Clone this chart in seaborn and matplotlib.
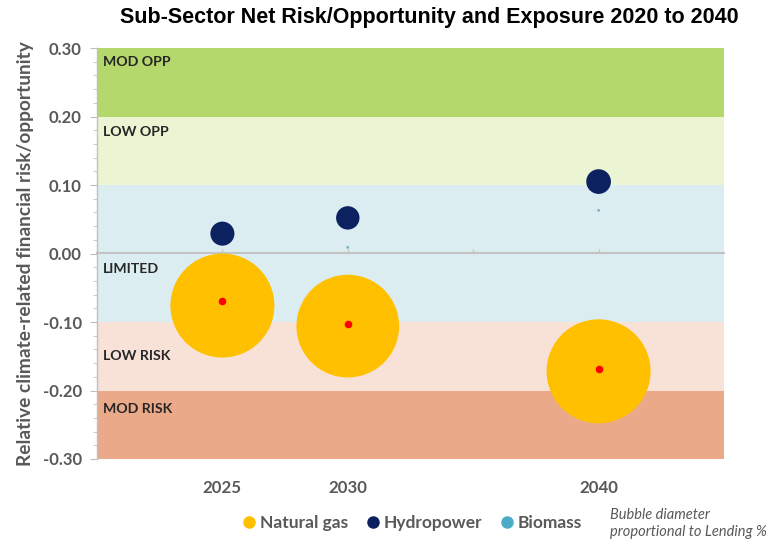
import matplotlib
matplotlib.use("Agg")
import matplotlib.pyplot as plt
from matplotlib.lines import Line2D
import numpy as np
import pandas as pd
import seaborn as sns

# ---- data ----
years = [2025, 2030, 2040]
gas_y = [-0.076, -0.106, -0.172]
gas_lending = [80, 79, 80]
hydro_y = [0.029, 0.052, 0.105]
hydro_lending = [18.5, 18, 19]
bio_years = [2030, 2040]
bio_y = [0.009, 0.063]
bio_lending = [2.2, 2.2]
red_y = [-0.070, -0.103, -0.168]

band_names = ["MOD OPP", "LOW OPP", "LIMITED", "LOW RISK", "MOD RISK"]
band_top = [0.30, 0.20, 0.10, -0.10, -0.20]
band_bottom = [0.20, 0.10, -0.10, -0.20, -0.30]
band_label_y = [0.280, 0.178, -0.023, -0.150, -0.227]
band_colors = ["#b5d86c", "#ebf5d3", "#dcedf1", "#f8e2d8", "#eaaa89"]

series_names = ["Natural gas", "Hydropower", "Biomass"]
series_colors = {"Natural gas": "#ffc000", "Hydropower": "#0b2160", "Biomass": "#4bacc6"}

yticks = [0.30, 0.20, 0.10, 0.00, -0.10, -0.20, -0.30]
xtick_years = [2025, 2030, 2040]

# ---- frame ----
df = pd.DataFrame({
    "Year": years * 2 + bio_years,
    "Value": gas_y + hydro_y + bio_y,
    "Lending": gas_lending + hydro_lending + bio_lending,
    "Sub-sector": ["Natural gas"] * 3 + ["Hydropower"] * 3 + ["Biomass"] * 2,
})
red_df = pd.DataFrame({"Year": years, "Value": red_y})

sns.set_style("white")
plt.rcParams["font.family"] = ["Lato", "DejaVu Sans"]

DPI = 100
fig = plt.figure(figsize=(7.66, 5.47), dpi=DPI)
ax = fig.add_axes([97 / 766, 1 - 459 / 547, (724 - 97) / 766, (459 - 48) / 547])

ax.set_xlim(2020, 2045)
ax.set_ylim(-0.30, 0.30)

for top, bot, col in zip(band_top, band_bottom, band_colors):
    ax.axhspan(bot, top, color=col, lw=0, zorder=0)
for name, ly in zip(band_names, band_label_y):
    ax.text(2020.25, ly, name, fontsize=10.2, fontweight="bold", color="#262626",
            va="center", ha="left", zorder=1)

# bubble diameter proportional to lending: px per %
px_per_pct = 1.3
pt_per_px = 72 / DPI
size_lookup = {v: (v * px_per_pct * pt_per_px) ** 2 for v in df["Lending"].unique()}

sns.scatterplot(data=df, x="Year", y="Value", hue="Sub-sector", size="Lending",
                sizes=size_lookup, palette=[series_colors["Natural gas"], series_colors["Hydropower"], "#7fb0c4"],
                hue_order=series_names, linewidth=0, legend=False, ax=ax, zorder=3, alpha=1)
sns.scatterplot(data=red_df, x="Year", y="Value", color="#ff0000", s=30, linewidth=0,
                legend=False, ax=ax, zorder=4)

# axes styling
for s in ["top", "right", "bottom"]:
    ax.spines[s].set_visible(False)
ax.spines["left"].set_color("#bfbfbf")
ax.spines["left"].set_linewidth(1)
ax.set_yticks(yticks)
ax.set_yticklabels([f"{t:.2f}" for t in yticks])
ax.set_yticks(np.arange(-0.30, 0.301, 0.02), minor=True)
ax.tick_params(axis="y", which="major", length=5, color="#bfbfbf", labelsize=12,
               labelcolor="#595959", pad=6, left=True)
ax.tick_params(axis="y", which="minor", length=3, color="#bfbfbf", left=True)
for lab in ax.get_yticklabels():
    lab.set_fontweight("bold")

ax.set_xticks(xtick_years)
ax.set_xticklabels([str(y) for y in xtick_years])
ax.tick_params(axis="x", length=0, labelsize=12.2, labelcolor="#595959", pad=15)
for lab in ax.get_xticklabels():
    lab.set_fontweight("bold")
ax.set_xlabel("")
ax.set_ylabel("Relative climate-related financial risk/opportunity", fontsize=13.8,
              fontweight="bold", color="#595959", labelpad=6)

# zero axis line with ticks
sec = ax.secondary_xaxis(0.5)
sec.set_xticks([2025, 2030, 2035, 2040])
sec.set_xticklabels([])
sec.tick_params(length=3, color="#c4c4c4", width=1)
for sp in sec.spines.values():
    sp.set_color("#c4c4c4")
    sp.set_linewidth(1.5)

fig.suptitle("Sub-Sector Net Risk/Opportunity and Exposure 2020 to 2040",
             x=0.561, y=0.988, fontsize=15.5, fontweight="bold",
             family=["Liberation Sans", "DejaVu Sans"], color="black")

handles = [Line2D([], [], marker="o", ls="", markersize=9, markerfacecolor=series_colors[n],
                  markeredgewidth=0, label=n) for n in series_names]
leg = fig.legend(handles=handles, loc="center", bbox_to_anchor=(0.537, 0.044), ncol=3,
                 frameon=False, handletextpad=0.1, columnspacing=0.95, handlelength=1.0,
                 prop={"size": 12.5, "weight": "bold"})
for t in leg.get_texts():
    t.set_color("#595959")

fig.text(610 / 766, 1 - 515 / 547, "Bubble diameter", fontsize=10.5, style="italic",
         color="#595959", va="center", ha="left")
fig.text(610 / 766, 1 - 532 / 547, "proportional to Lending %", fontsize=10.5, style="italic",
         color="#595959", va="center", ha="left")

fig.savefig("out.png", dpi=DPI)
